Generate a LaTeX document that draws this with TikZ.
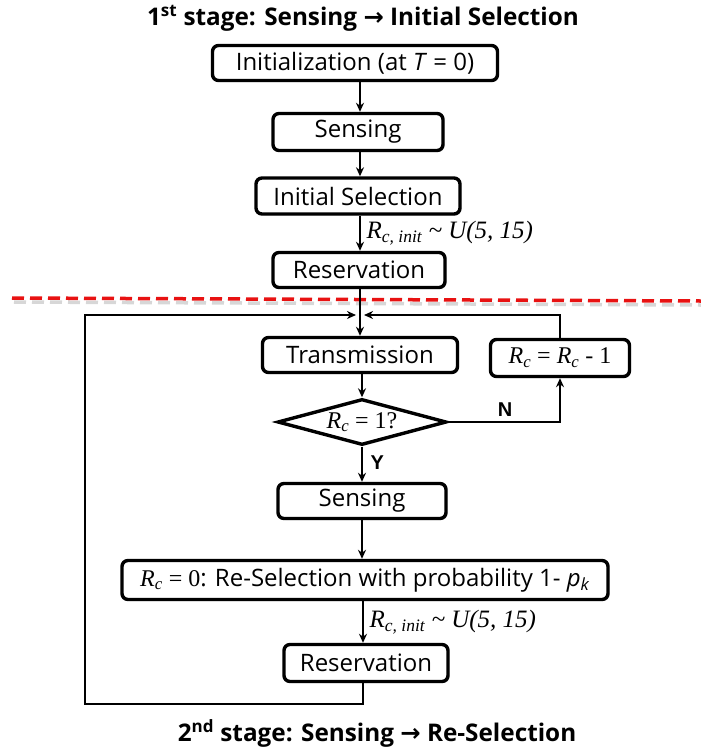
\documentclass[tikz,border=0pt]{standalone}
\usepackage{fontspec}
\setmainfont{Open Sans}
\newfontfamily\tms{Liberation Serif}
\newfontfamily\arial{Liberation Sans}
\newfontfamily\symfont{DejaVu Sans}
\usetikzlibrary{shapes.geometric,arrows.meta,shadows}

% R with subscript c, set in a Times-like italic
\newcommand{\Rsub}[1]{{\tms\itshape R\textsubscript{#1}}}
\newcommand{\Rinitlaw}{{\tms\itshape R\textsubscript{c, init} \char"7E\ U(5, 15)}}

\definecolor{stagered}{RGB}{232,18,18}

\tikzset{
  box/.style={draw, line width=3.4pt, rounded corners=6pt, fill=white,
    inner sep=0pt, font=\fontsize{24}{28}\selectfont,
    drop shadow={shadow xshift=1.5pt, shadow yshift=-1.5pt, opacity=0.25}},
  arr/.style={line width=2.6pt, -{Stealth[length=9pt,width=8pt]}},
  lawlabel/.style={anchor=west, font=\fontsize{25}{28}\selectfont},
  yn/.style={font=\arial\bfseries\fontsize{20}{22}\selectfont},
  title/.style={font=\bfseries\fontsize{24.3}{28}\selectfont}
}

\begin{document}
\begin{tikzpicture}[x=1pt, y=-1pt]
  \useasboundingbox (0,0) rectangle (701,753);

  % stage titles
  \node[title] (t1) at (363,18) {1\textsuperscript{st} stage: Sensing {\symfont\bfseries →} Initial Selection};
  \node[title] (t2) at (377,733) {2\textsuperscript{nd} stage: Sensing {\symfont\bfseries →} Re-Selection};

  % first stage
  \node[box, minimum width=285pt, minimum height=35pt] (init) at (355,63) {Initialization (at \textit{T} = 0)};
  \node[box, minimum width=170pt, minimum height=37pt] (sense1) at (358,132) {Sensing};
  \node[box, minimum width=204pt, minimum height=36pt] (isel) at (358,196) {Initial Selection};
  \node[box, minimum width=172pt, minimum height=35pt] (res1) at (359,270) {Reservation};

  % separator between the two stages
  \draw[gray!70, opacity=0.45, line width=3.5pt, dash pattern=on 12pt off 6pt] (14,302) -- (701,305);
  \draw[stagered, line width=3.5pt, dash pattern=on 12pt off 6pt] (12,298) -- (701,301);

  % second stage
  \node[box, minimum width=195pt, minimum height=35pt] (trans) at (360,355) {Transmission};
  \node[box, minimum width=139pt, minimum height=37pt] (rc) at (560,358) {\Rsub{c}{\tms\ = }\Rsub{c}{\tms\ - 1}};
  \node[draw, line width=3.4pt, fill=white, shape=diamond, aspect=3.67, inner sep=0pt,
        minimum width=169pt, minimum height=46pt, font=\fontsize{24}{28}\selectfont,
        drop shadow={shadow xshift=1.5pt, shadow yshift=-1.5pt, opacity=0.25}]
        (dec) at (362,422) {\Rsub{c}{\tms\ = 1?}};
  \node[box, minimum width=168pt, minimum height=35pt] (sense2) at (362,501) {Sensing};
  \node[box, minimum width=486pt, minimum height=39pt] (resel) at (365,580)
        {\Rsub{c}{\tms\ = 0}: Re-Selection with probability 1- \textit{p}\textsubscript{\textit{k}}};
  \node[box, minimum width=164pt, minimum height=37pt] (res2) at (366,663) {Reservation};

  % junction coordinates
  \coordinate (m) at (360,315);
  \coordinate (mL) at (356,315);
  \coordinate (mR) at (364,315);
  \coordinate (loopL) at (85,704);
  \coordinate (s2) at (363,0);

  % first stage connectors
  \draw[arr] (init.south -| m) -- (sense1.north -| m);
  \draw[arr] (sense1.south -| m) -- (isel.north -| m);
  \draw[arr] (isel.south -| m) -- (res1.north -| m)
        node[lawlabel, pos=0.5, xshift=2pt] (law1) {\Rinitlaw};
  \draw[arr] (res1.south -| m) -- (trans.north -| m);

  % second stage connectors
  \draw[arr] (trans.south -| dec) -- (dec.north);
  \draw[arr] (dec.east) -| (rc.south) node[yn, pos=0.5, above=1pt, xshift=-55pt] (nlab) {N};
  \draw[arr] (dec.south) -- (sense2.north -| dec) node[yn, pos=0.45, right=4pt] (ylab) {Y};
  \draw[arr] (sense2.south -| dec) -- (resel.north -| dec);
  \draw[arr] (resel.south -| s2) -- (res2.north -| s2)
        node[lawlabel, pos=0.5, xshift=2pt] (law2) {\Rinitlaw};

  % feedback loops into the junction
  \draw[arr] (rc.north) |- (mR);
  \draw[arr] (res2.south -| s2) |- (loopL) |- (mL);
\end{tikzpicture}
\end{document}
